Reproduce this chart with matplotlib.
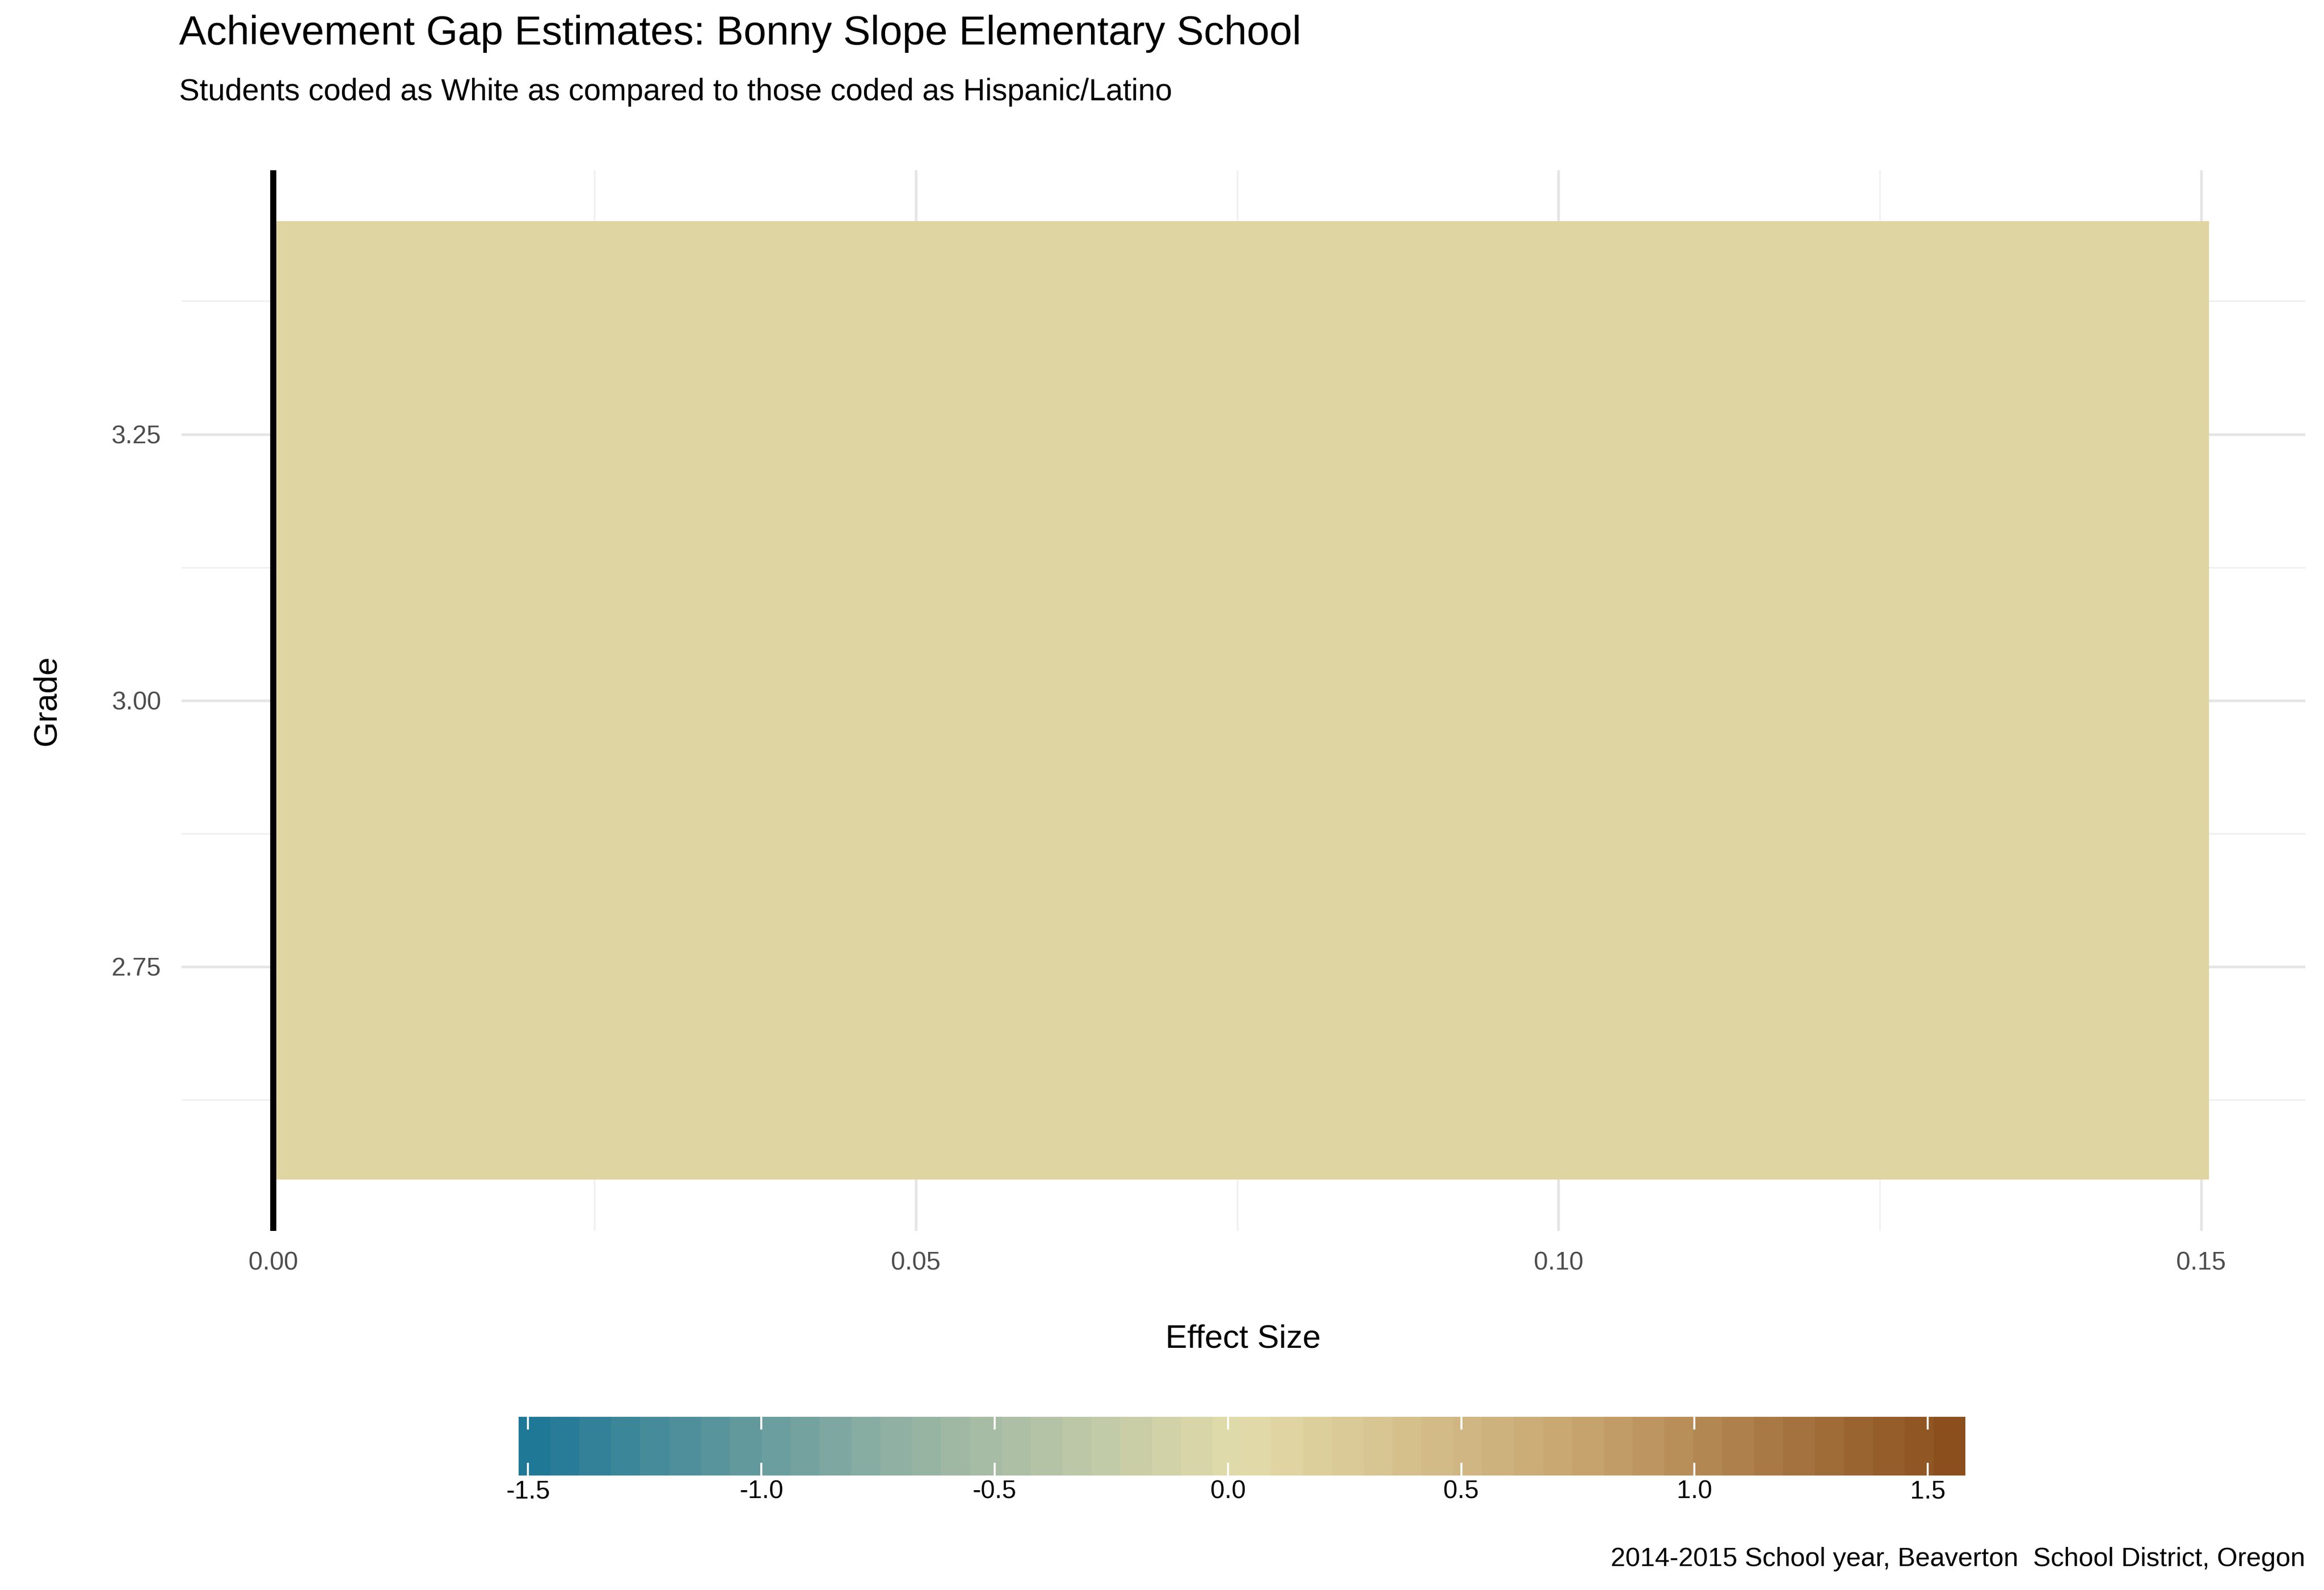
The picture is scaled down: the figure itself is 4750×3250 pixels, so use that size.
import numpy as np
import matplotlib.pyplot as plt
from matplotlib.colors import LinearSegmentedColormap, Normalize

grades = [3]
effect_sizes = [0.1506]
x_ticks = [0.00, 0.05, 0.10, 0.15]
y_ticks = [2.75, 3.00, 3.25]
cbar_ticks = [-1.5, -1.0, -0.5, 0.0, 0.5, 1.0, 1.5]
cbar_limits = (-1.52, 1.58)

plt.rcParams['font.family'] = ['Liberation Sans', 'DejaVu Sans']

cmap = LinearSegmentedColormap.from_list(
    "gap", ["#1F7896", "#8FB0A3", "#E3DCAA", "#C6A26C", "#8B4F1D"], N=48)
norm = Normalize(*cbar_limits)

fig = plt.figure(figsize=(4750 / 300, 3250 / 300), dpi=300)
ax = fig.add_axes([0.078, 0.226, 0.914, 0.667])

ax.barh(grades, effect_sizes, height=0.9, color=cmap(norm(np.array(effect_sizes))), zorder=2)
ax.axvline(0, color="black", lw=3, zorder=3)

ax.set_xlim(-0.00714, 0.1581)
ax.set_ylim(2.502, 3.498)
ax.set_xticks(x_ticks)
ax.set_xticklabels([f"{v:.2f}" for v in x_ticks])
ax.set_yticks(y_ticks)
ax.set_yticklabels([f"{v:.2f}" for v in y_ticks])
ax.set_xticks([0.025, 0.075, 0.125], minor=True)
ax.set_yticks([2.625, 2.875, 3.125, 3.375], minor=True)
ax.grid(which="major", color="#E5E5E5", lw=1.3, zorder=0)
ax.grid(which="minor", color="#F0F0F0", lw=0.8, zorder=0)
ax.tick_params(which="both", length=0, labelsize=12.5, colors="#4D4D4D", pad=10)
for s in ax.spines.values():
    s.set_visible(False)
ax.set_xlabel("Effect Size", fontsize=16, labelpad=24)
ax.set_ylabel("Grade", fontsize=16, labelpad=24)

fig.text(0.077, 0.972, "Achievement Gap Estimates: Bonny Slope Elementary School",
         fontsize=20, va="baseline")
fig.text(0.077, 0.937, "Students coded as White as compared to those coded as Hispanic/Latino",
         fontsize=15, va="baseline")
fig.text(0.992, 0.015, "2014-2015 School year, Beaverton  School District, Oregon",
         fontsize=13, ha="right", va="baseline")

cax = fig.add_axes([0.2232, 0.072, 0.6224, 0.037])
grad = np.linspace(*cbar_limits, 500).reshape(1, -1)
cax.imshow(grad, aspect="auto", cmap=cmap, norm=norm,
           extent=[cbar_limits[0], cbar_limits[1], 0, 1])
cax.set_xlim(*cbar_limits)
cax.set_yticks([])
cax.set_xticks(cbar_ticks)
cax.set_xticklabels([f"{v:.1f}" for v in cbar_ticks])
cax.tick_params(axis="x", length=0, labelsize=12.5, pad=2)
for v in cbar_ticks:
    cax.plot([v, v], [0, 0.2], color="white", lw=1)
    cax.plot([v, v], [0.8, 1], color="white", lw=1)
for s in cax.spines.values():
    s.set_visible(False)

fig.savefig("out.png", dpi=300)
